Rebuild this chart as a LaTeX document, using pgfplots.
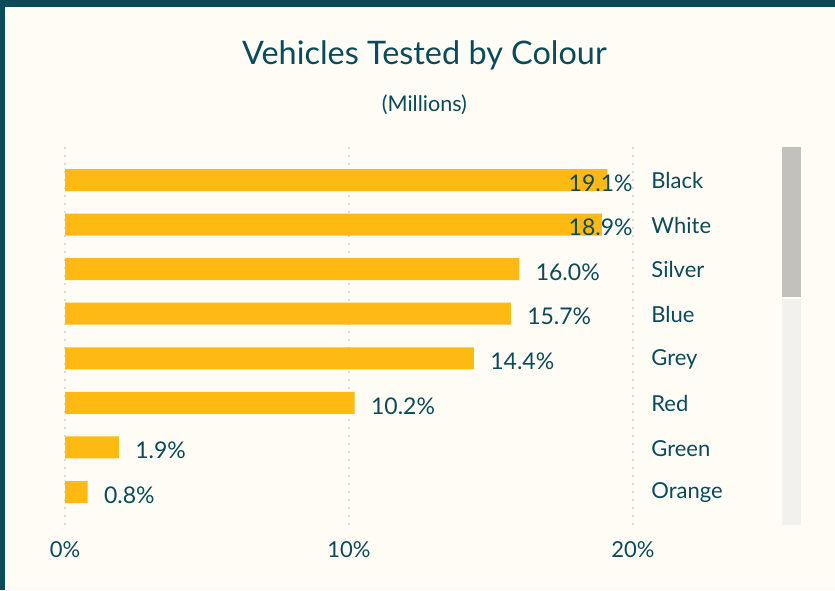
\documentclass[border=0pt]{standalone}
\usepackage{fontspec}
\setmainfont{Lato}
\usepackage{pgfplots}
\pgfplotsset{compat=1.18}
\definecolor{teal}{HTML}{0B4B59}
\definecolor{paper}{HTML}{FFFCF5}
\definecolor{bar}{HTML}{FFB913}
\definecolor{gridc}{HTML}{DDDBD6}
\definecolor{thumb}{HTML}{C2C1BC}
\definecolor{track}{HTML}{F2F1EE}

\begin{document}
\begin{tikzpicture}
% page: 1px = 0.5pt, origin top left
\useasboundingbox (0,0) rectangle (417.5pt,-295pt);
\fill[paper] (0,0) rectangle (417.5pt,-295pt);
\fill[teal] (0,0) rectangle (417.5pt,-3.5pt);
\fill[teal] (0,0) rectangle (2.5pt,-295pt);

\node[text=teal, font=\fontsize{16.2}{19}\selectfont] at (212.2pt,-27.5pt) {Vehicles Tested by Colour};
\node[text=teal, font=\fontsize{10.8}{13}\selectfont] at (212.2pt,-52.3pt) {(Millions)};

% scrollbar
\fill[thumb] (391pt,-73.5pt) rectangle (400.5pt,-148.5pt);
\fill[track] (391pt,-149.5pt) rectangle (400.5pt,-262.5pt);

\begin{axis}[
  at={(32.5pt,-262.5pt)}, anchor=south west,
  scale only axis, width=284pt, height=189pt,
  xmin=0, xmax=20, ymin=-0.74, ymax=7.74,
  y dir=reverse,
  axis line style={draw=none}, tick style={draw=none},
  xtick={0,10,20}, xticklabels={0\%,10\%,20\%},
  xmajorgrids, grid style={gridc, line width=0.8pt, dash pattern=on 0.8pt off 3.2pt},
  ytick={0,...,7},
  yticklabels={Black,White,Silver,Blue,Grey,Red,Green,Orange},
  yticklabel pos=right,
  yticklabel style={anchor=west, inner sep=0pt, xshift=9pt, yshift=-0.4pt, font=\fontsize{11}{13}\selectfont, text=teal},
  xticklabel style={anchor=north, inner sep=0pt, yshift=-8pt, font=\fontsize{11}{13}\selectfont, text=teal},
  /pgf/number format/assume math mode=true,
  clip=false,
]
% bars whose labels sit at the right edge
\addplot[xbar, bar width=11pt, bar shift=0pt, fill=bar, draw=none] coordinates {
 (19.1,0) (18.9,1)
};
\addplot[only marks, mark=none, point meta=explicit symbolic,
  nodes near coords, nodes near coords align={center},
  nodes near coords style={anchor=east, inner sep=0pt, xshift=0pt, yshift=-1.5pt, text=teal, font=\fontsize{11.5}{13}\selectfont}]
  coordinates {(20,0) [19.1\%] (20,1) [18.9\%]};
% remaining bars
\addplot[xbar, bar width=11pt, bar shift=0pt, fill=bar, draw=none,
  nodes near coords={\pgfmathprintnumber[fixed,precision=1,fixed zerofill]{\pgfplotspointmeta}\%},
  nodes near coords align={horizontal},
  every node near coord/.append style={anchor=west, inner sep=0pt, xshift=8pt, yshift=-1.5pt, text=teal, font=\fontsize{11.5}{13}\selectfont}]
  coordinates {
 (16.0,2) (15.7,3) (14.4,4) (10.2,5) (1.9,6) (0.8,7)
};
\end{axis}
\end{tikzpicture}
\end{document}
